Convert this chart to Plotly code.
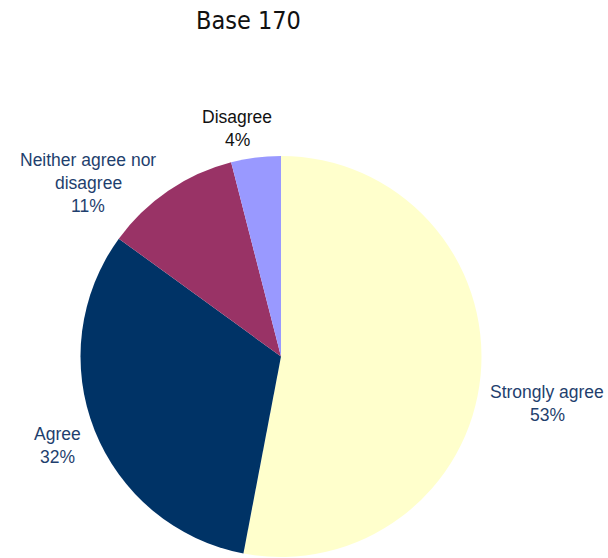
import plotly.graph_objects as go

# Survey responses (share of respondents, %)
categories = ["Strongly agree", "Agree", "Neither agree nor disagree", "Disagree"]
values = [53, 32, 11, 4]
colors = ["#FFFFCC", "#003366", "#993366", "#9999FF"]
title_text = "Base 170"

W, H = 608, 558

fig = go.Figure(
    go.Pie(
        labels=categories,
        values=values,
        sort=False,
        direction="clockwise",
        rotation=0,
        marker=dict(colors=colors, line=dict(width=0)),
        textinfo="none",
        hoverinfo="label+percent",
        showlegend=False,
        domain=dict(x=[79 / W, 483 / W], y=[1 - 557 / H, 1 - 156 / H]),
    )
)

# Outside labels: (text lines, x px, y px of first line centre, colour)
label_layout = {
    "Strongly agree": (["Strongly agree"], 547, 392, "#1F3F6E"),
    "Agree": (["Agree"], 57, 434, "#1F3F6E"),
    "Neither agree nor disagree": (["Neither agree nor", "disagree"], 88, 160, "#1F3F6E"),
    "Disagree": (["Disagree"], 237, 117, "#111111"),
}

line_gap = 23
for cat, val in zip(categories, values):
    lines, x, y, col = label_layout[cat]
    lines = lines + [f"{val}%"]
    for i, ln in enumerate(lines):
        fig.add_annotation(
            text=ln,
            x=x / W,
            y=1 - (y + i * line_gap) / H,
            xref="paper",
            yref="paper",
            showarrow=False,
            xanchor="center",
            yanchor="middle",
            font=dict(family="Liberation Sans, Arial, sans-serif", size=17.5, color=col),
        )

fig.add_annotation(
    text=title_text,
    x=248 / W,
    y=1 - 20 / H,
    xref="paper",
    yref="paper",
    showarrow=False,
    xanchor="center",
    yanchor="middle",
    font=dict(family="DejaVu Sans Condensed, Liberation Sans Narrow, sans-serif", size=25, color="#111111"),
)

fig.update_layout(
    width=W,
    height=H,
    margin=dict(l=0, r=0, t=0, b=0),
    paper_bgcolor="white",
    plot_bgcolor="white",
)

fig.write_html("out.html")
